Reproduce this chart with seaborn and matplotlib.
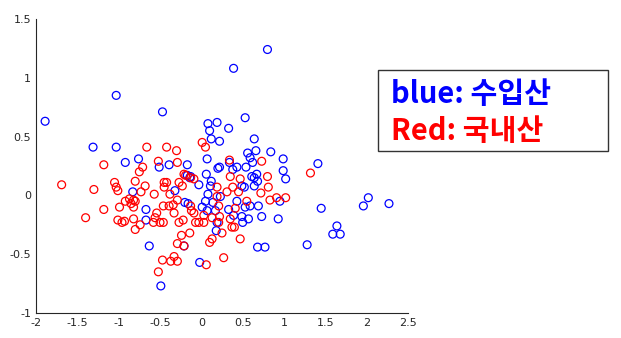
import numpy as np
import pandas as pd
import matplotlib
matplotlib.use('Agg')
import matplotlib.pyplot as plt
from matplotlib.patches import Rectangle
import seaborn as sns

# 수입산 (blue)
blue_x = [-1.89, -1.03, -0.47, -1.31, -1.03, -0.92, -0.76, -0.51, -0.39, -0.17,
          0.08, 0.19, 0.10, 0.12, 0.22, 0.07, 0.20, 0.06, -0.17, -0.14,
          0.80, 0.39, 0.53, 0.33, 0.64, 0.56, 0.66, 0.84, 0.99, 1.41,
          0.59, 0.62, 0.34, 0.43, 0.22, 0.54, 0.38, 0.99, 0.67, 0.61,
          0.64, 1.02, 1.45, 2.02, 1.96, 2.27, 1.64, 1.59, 1.68, 1.28,
          0.68, 0.77, 0.93, 0.73, 0.57, 0.50, 0.69, 0.59, 0.95, 0.49,
          0.53, 0.43, 0.33, 0.39, 0.49, 0.52, 0.64, 0.68, 0.12, 0.11,
          0.08, 0.05, 0.14, 0.23, 0.17, 0.19, 0.18, -0.02, -0.83, -0.67,
          -0.67, -0.63, -0.21, -0.49, -0.32, -0.20, -0.16, -0.03, 0.01, 0.07,
          -0.13]
blue_y = [0.63, 0.85, 0.71, 0.41, 0.41, 0.28, 0.31, 0.24, 0.26, 0.26,
          0.61, 0.62, 0.55, 0.48, 0.46, 0.31, 0.23, 0.18, 0.17, 0.15,
          1.24, 1.08, 0.66, 0.57, 0.48, 0.36, 0.38, 0.37, 0.31, 0.27,
          0.32, 0.28, 0.28, 0.24, 0.24, 0.24, 0.22, 0.21, 0.18, 0.16,
          0.15, 0.14, -0.11, -0.02, -0.09, -0.07, -0.26, -0.33, -0.33, -0.42,
          -0.44, -0.44, -0.20, -0.18, -0.20, -0.23, -0.09, -0.09, -0.05, -0.18,
          -0.10, -0.05, -0.12, -0.17, 0.08, 0.07, 0.08, 0.12, 0.12, 0.08,
          0.01, -0.05, -0.06, -0.01, -0.13, -0.23, -0.30, -0.57, 0.03, -0.12,
          -0.21, -0.43, -0.43, -0.77, 0.04, -0.06, -0.07, 0.09, -0.10, -0.13,
          0.16]

# 국내산 (red)
red_x = [-1.69, -1.30, -1.18, -1.40, -1.18, -1.05, -1.03, -1.01, -0.99, -1.01,
         -0.96, -0.93, -0.92, -0.87, -0.85, -0.82, -0.80, -0.82, -0.82, -0.80,
         -0.74, -0.80, -0.75, -0.71, -0.73, -0.68, -0.57, -0.54, -0.56, -0.58,
         -0.50, -0.46, -0.52, -0.66, -0.42, -0.30, -0.29, 0.01, 0.05, -0.45,
         -0.42, -0.45, -0.38, -0.46, -0.39, -0.33, -0.29, -0.34, -0.27, -0.22,
         -0.24, -0.14, -0.29, -0.21, -0.33, -0.47, -0.37, -0.29, -0.52, 0.06,
         0.27, 0.47, 0.10, 0.13, 0.25, -0.07, -0.03, 0.03, -0.12, -0.09,
         -0.13, -0.27, -0.23, -0.21, -0.19, -0.13, -0.09, 0.34, 0.73, 1.32,
         0.80, 0.35, 0.47, 0.38, 0.45, 0.81, 0.72, 0.19, 0.19, 0.21,
         0.91, 1.02, 0.83, 0.55, 0.31, 0.41, 0.35, 0.37, 0.40, 0.22,
         0.21, 0.03, 0.13]
red_y = [0.09, 0.05, -0.12, -0.19, 0.26, 0.11, 0.07, 0.04, -0.10, -0.21,
         -0.23, -0.22, -0.05, -0.03, -0.07, -0.04, -0.05, -0.10, -0.20, -0.29,
         -0.25, 0.12, 0.20, 0.24, 0.03, 0.08, 0.01, -0.15, -0.19, -0.23,
         -0.23, -0.23, 0.29, 0.41, 0.41, 0.38, 0.28, 0.45, 0.41, 0.11,
         0.11, 0.07, 0.01, -0.09, -0.09, -0.15, -0.04, -0.08, -0.23, -0.21,
         -0.34, -0.32, -0.41, -0.43, -0.52, -0.55, -0.56, -0.56, -0.65, -0.59,
         -0.53, -0.37, -0.40, -0.37, -0.32, -0.23, -0.23, -0.23, -0.13, -0.15,
         -0.09, 0.11, 0.08, 0.18, 0.17, 0.15, 0.14, 0.30, 0.29, 0.19,
         0.16, 0.16, 0.14, 0.07, 0.03, 0.07, 0.02, 0.07, -0.01, -0.09,
         -0.02, -0.02, -0.04, -0.05, 0.03, -0.11, -0.20, -0.27, -0.27, -0.18,
         -0.23, -0.17, -0.19]

x_ticks = [-2, -1.5, -1, -0.5, 0, 0.5, 1, 1.5, 2, 2.5]
y_ticks = [-1, -0.5, 0, 0.5, 1, 1.5]
legend_lines = ['blue: 수입산', 'Red: 국내산']

sns.set_style('white')
plt.rcParams['xtick.direction'] = 'in'
plt.rcParams['ytick.direction'] = 'in'
plt.rcParams['font.family'] = ['DejaVu Sans']

fig = plt.figure(figsize=(6.21, 3.38), dpi=100)
ax = fig.add_axes([0.058, 0.074, 0.599, 0.870])

sns.scatterplot(x=blue_x, y=blue_y, ax=ax, marker='o', s=32,
                facecolors='none', edgecolor='#0000ff', linewidth=0.9)
sns.scatterplot(x=red_x, y=red_y, ax=ax, marker='o', s=32,
                facecolors='none', edgecolor='#ff0000', linewidth=0.9)

ax.set_xlim(-2, 2.5)
ax.set_ylim(-1, 1.5)
ax.set_xticks(x_ticks)
ax.set_yticks(y_ticks)
ax.set_xticklabels([f'{t:g}' for t in x_ticks])
ax.set_yticklabels([f'{t:g}' for t in y_ticks])
ax.tick_params(labelsize=8, colors='#262626', length=4, width=0.8)
for side in ['top', 'right']:
    ax.spines[side].set_visible(False)
for side in ['left', 'bottom']:
    ax.spines[side].set_color('#262626')
    ax.spines[side].set_linewidth(0.8)

# 범례 박스
fig.patches.append(Rectangle((0.609, 0.553), 0.370, 0.240, transform=fig.transFigure,
                             facecolor='white', edgecolor='#333333', linewidth=1.0))
fig.text(0.630, 0.722, legend_lines[0], color='#0000ff', fontsize=21, fontweight='bold',
         family=['Noto Sans CJK KR', 'DejaVu Sans'], va='center', ha='left')
fig.text(0.630, 0.613, legend_lines[1], color='#ff0000', fontsize=21, fontweight='bold',
         family=['Noto Sans CJK KR', 'DejaVu Sans'], va='center', ha='left')

fig.savefig('out.png', dpi=100)
